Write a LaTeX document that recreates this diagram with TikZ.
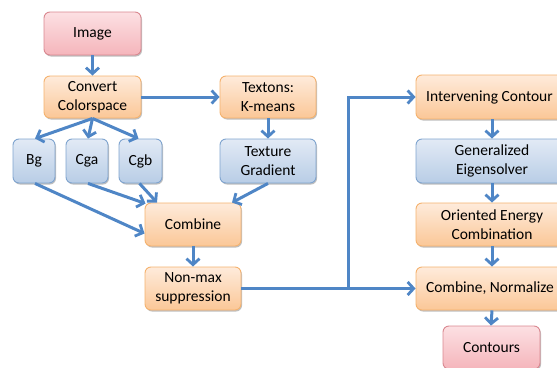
\documentclass[tikz,border=0pt]{standalone}
\usepackage{fontspec}
\setmainfont{Carlito}
\usetikzlibrary{arrows.meta,shadows}
\definecolor{arrowc}{HTML}{4F86C6}
\definecolor{pinkT}{HTML}{FCE0E3}
\definecolor{pinkB}{HTML}{F5B5BB}
\definecolor{pinkD}{HTML}{D98890}
\definecolor{orT}{HTML}{FEEBDB}
\definecolor{orB}{HTML}{FBC797}
\definecolor{orD}{HTML}{F5B26E}
\definecolor{blT}{HTML}{E2EAF5}
\definecolor{blB}{HTML}{B8CDE6}
\definecolor{blD}{HTML}{7FA4CF}
\tikzset{
  box/.style={rounded corners=6pt, line width=0.9pt, align=center, inner sep=0pt,
    font=\fontsize{15.5}{19}\selectfont, text=black,
    drop shadow={shadow xshift=1pt, shadow yshift=-1.5pt, opacity=0.25, fill=black}},
  pinkbox/.style={box, draw=pinkD, top color=pinkT, bottom color=pinkB},
  orbox/.style={box, draw=orD, top color=orT, bottom color=orB},
  blbox/.style={box, draw=blD, top color=blT, bottom color=blB},
  conn/.style={draw=arrowc, line width=3pt, -{Straight Barb[length=6pt,width=13pt,line width=2.8pt]}},
  plaintext/.style={font=\fontsize{15.5}{19}\selectfont, text=black, anchor=west, inner sep=0pt}
}
\begin{document}
\begin{tikzpicture}[x=1pt,y=-1pt]
\useasboundingbox (0,0) rectangle (557,367);
\clip (0,0) rectangle (557,367);
% left part
\node[pinkbox, minimum width=97pt, minimum height=43pt] (img) at (92.5,33.5) {Image};
\node[orbox, minimum width=97pt, minimum height=42pt] (conv) at (92.5,97) {Convert\\Colorspace};
\node[orbox, minimum width=96pt, minimum height=42pt] (tex) at (268,97) {Textons:\\K-means};
\node[blbox, minimum width=42pt, minimum height=44pt] (bg) at (34,161) {Bg};
\node[blbox, minimum width=42pt, minimum height=44pt] (cga) at (87,161) {Cga};
\node[blbox, minimum width=43pt, minimum height=44pt] (cgb) at (140.5,161) {Cgb};
\node[blbox, minimum width=96pt, minimum height=44pt] (tg) at (268,161) {Texture\\Gradient};
\node[orbox, minimum width=96pt, minimum height=43pt] (comb) at (193,224.5) {Combine};
\node[orbox, minimum width=96pt, minimum height=43pt] (nms) at (193,288.5) {Non-max\\suppression};
% right column
\node[orbox, minimum width=152pt, minimum height=44pt] (ic) at (492,97) {};
\node[plaintext] (ict) at (426,97) {Intervening Contour};
\node[blbox, minimum width=152pt, minimum height=44pt] (ge) at (492,161) {Generalized\\Eigensolver};
\node[orbox, minimum width=152pt, minimum height=43pt] (oe) at (492,224.5) {Oriented Energy\\Combination};
\node[orbox, minimum width=152pt, minimum height=43pt] (cn) at (492,288.5) {};
\node[plaintext] (cnt) at (426,288.5) {Combine, Normalize};
\node[pinkbox, minimum width=97pt, minimum height=43pt] (cont) at (491.5,347.5) {Contours};
% connectors
\draw[conn] (img.south) -- (conv.north);
\draw[conn] (conv.east) -- (tex.west);
\draw[conn] (tex.south) -- (tg.north);
\draw[conn] (conv.south) -- ([xshift=1pt]bg.north);
\draw[conn] (conv.south) -- ([xshift=1pt]cga.north);
\draw[conn] (conv.south) -- ([xshift=-2pt]cgb.north);
\draw[conn] ([xshift=1pt]bg.south) -- ([yshift=-9pt]comb.west);
\draw[conn] ([xshift=1pt]cga.south) -- ([xshift=1pt,yshift=-1pt]comb.north west);
\draw[conn] ([xshift=-1pt]cgb.south) -- ([xshift=-36pt]comb.north);
\draw[conn] (tg.south) -- ([xshift=39pt]comb.north);
\draw[conn] (comb.south) -- (nms.north);
\coordinate (j) at (348,288.5);
\draw[conn] (nms.east) -- (cn.west);
\draw[conn] (j) |- (ic.west);
\draw[conn] (ic.south) -- (ge.north);
\draw[conn] (ge.south) -- (oe.north);
\draw[conn] (oe.south) -- (cn.north);
\draw[conn] (cn.south) -- ([xshift=-0.5pt]cont.north);
\end{tikzpicture}
\end{document}
